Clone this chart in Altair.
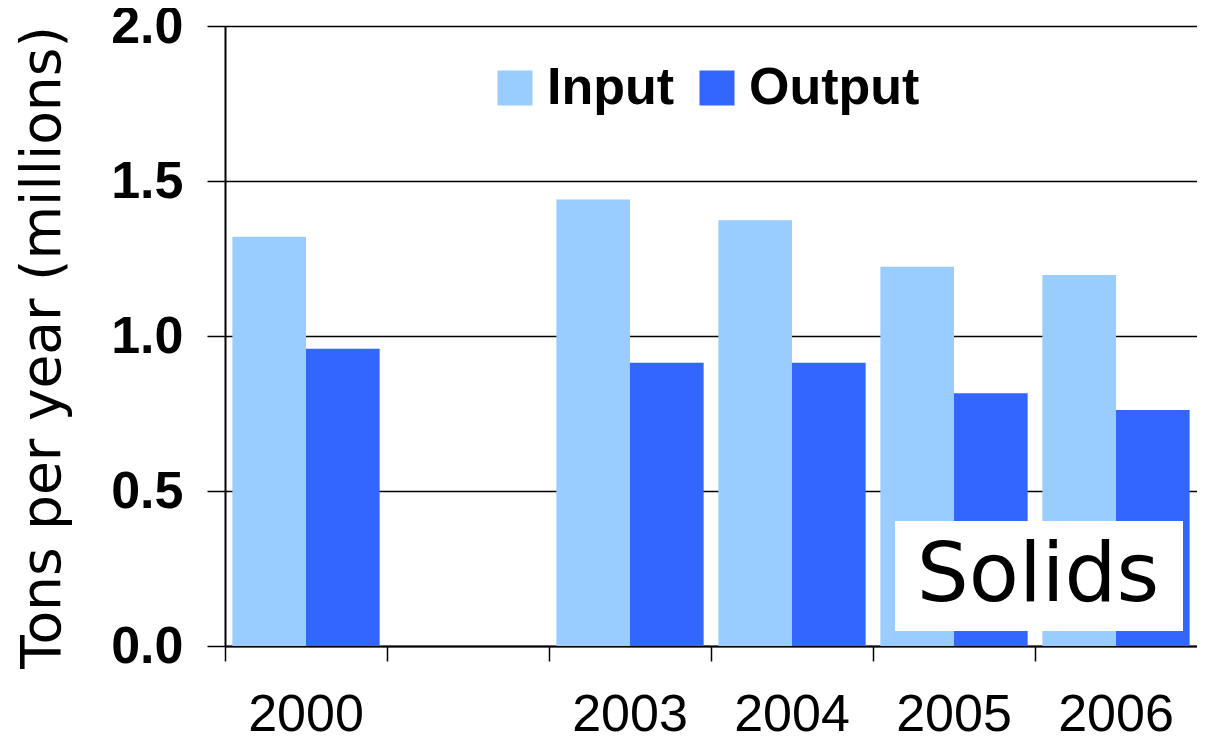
import altair as alt
import pandas as pd

categories = ["2000", "2001-2002", "2003", "2004", "2005", "2006"]
years = ["2000", "2003", "2004", "2005", "2006"]
input_vals = [1.32, 1.44, 1.373, 1.223, 1.197]
output_vals = [0.959, 0.914, 0.914, 0.815, 0.761]
series = ["Input", "Output"]
colors = ["#99CCFF", "#3366FF"]
y_ticks = [0.0, 0.5, 1.0, 1.5, 2.0]
y_title = "Tons per year (millions)"
note = ["Solids"]

rows = []
for yr, i, o in zip(years, input_vals, output_vals):
    rows.append({"year": yr, "series": "Input", "value": i})
    rows.append({"year": yr, "series": "Output", "value": o})
df = pd.DataFrame(rows)

W, H = 972, 620

bars = alt.Chart(df).mark_bar().encode(
    x=alt.X(
        "year:N",
        scale=alt.Scale(domain=categories, paddingInner=0, paddingOuter=0),
        axis=alt.Axis(
            title=None,
            bandPosition=0,
            labelExpr="datum.value == '2001-2002' ? '' : datum.label",
            labelAngle=0,
            labelFont="Liberation Sans",
            labelFontSize=52,
            labelColor="black",
            labelBaseline="alphabetic",
            labelPadding=69,
            labelLimit=400,
            tickSize=15,
            tickColor="black",
            tickWidth=1.5,
            domainColor="black",
            domainWidth=2,
            grid=False,
        ),
    ),
    xOffset=alt.XOffset(
        "series:N",
        scale=alt.Scale(domain=series, paddingOuter=0.1, paddingInner=0),
    ),
    y=alt.Y(
        "value:Q",
        scale=alt.Scale(domain=[0, 2], nice=False),
        axis=alt.Axis(
            values=y_ticks,
            format=".1f",
            title=y_title,
            titleFont="DejaVu Sans",
            titleFontSize=55,
            titleFontWeight="normal",
            titleColor="black",
            titleX=-166,
            titleY=321,
            titleAlign="center",
            titleBaseline="alphabetic",
            titleAngle=270,
            titleLimit=800,
            labelFont="Liberation Sans",
            labelFontSize=52,
            labelFontWeight="bold",
            labelColor="black",
            labelPadding=24,
            tickSize=18,
            tickColor="black",
            tickWidth=1.5,
            domainColor="black",
            domainWidth=2,
            grid=True,
            gridColor="black",
            gridWidth=1.5,
        ),
    ),
    color=alt.Color(
        "series:N",
        scale=alt.Scale(domain=series, range=colors),
        legend=alt.Legend(
            title=None,
            orient="none",
            legendX=264,
            legendY=36,
            direction="horizontal",
            symbolType="square",
            symbolSize=1225,
            symbolStrokeWidth=0,
            symbolOpacity=1,
            labelFont="Liberation Sans",
            labelFontSize=52,
            labelFontWeight="bold",
            labelColor="black",
            labelOffset=6,
            labelLimit=400,
            columnPadding=16,
            padding=0,
            offset=0,
        ),
    ),
)

note_df = pd.DataFrame({"label": note})

box = alt.Chart(note_df).mark_rect(color="white").encode(
    x=alt.value(670), x2=alt.value(958), y=alt.value(495), y2=alt.value(605)
)

txt = alt.Chart(note_df).mark_text(
    font="DejaVu Sans", fontSize=82, color="black", align="center", baseline="alphabetic"
).encode(text="label:N", x=alt.value(813), y=alt.value(575))

chart = (
    alt.layer(bars, box, txt)
    .properties(
        width=W,
        height=H,
        autosize=alt.AutoSizeParams(type="none"),
        padding={"left": 217, "top": 18, "right": 0, "bottom": 95},
        background="white",
    )
    .configure_view(stroke=None)
)

chart.save("out.html", embed_options={"renderer": "svg", "actions": False})
